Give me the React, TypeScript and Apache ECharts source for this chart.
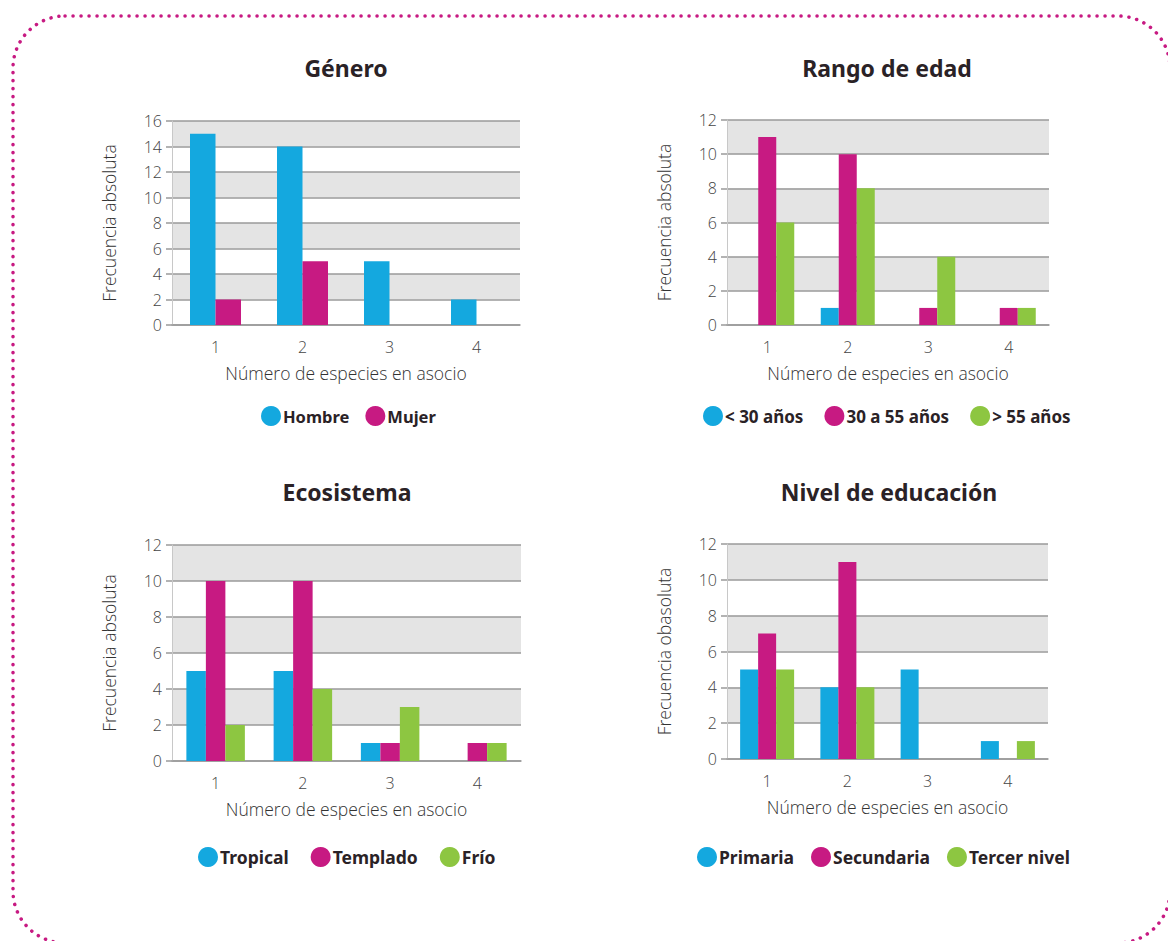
import React, { useEffect, useRef } from "react";
import * as echarts from "echarts";

// Categories on the x axis (number of species grown together)
const categories = ["1", "2", "3", "4"];

// Género
const generoHombre = [15, 14, 5, 2];
const generoMujer = [2, 5, 0, 0];

// Rango de edad
const edadMenor30 = [0, 1, 0, 0];
const edad30a55 = [11, 10, 1, 1];
const edadMayor55 = [6, 8, 4, 1];

// Ecosistema
const ecoTropical = [5, 5, 1, 0];
const ecoTemplado = [10, 10, 1, 1];
const ecoFrio = [2, 4, 3, 1];

// Nivel de educación
const eduPrimaria = [5, 4, 5, 1];
const eduSecundaria = [7, 11, 0, 0];
const eduTercer = [5, 4, 0, 1];

const BLUE = "#14a8df";
const MAGENTA = "#c71a82";
const GREEN = "#8dc641";
const TEXT = "#2a2226";
const AXIS_TEXT = "#444444";
const GRID_LINE = "#9a9a9a";
const BAND = "#e4e4e4";
const LABEL_FONT = "'Open Sans', 'Noto Sans', sans-serif";
const BOLD_FONT = "'Noto Sans', 'Open Sans', sans-serif";

type Panel = {
  title: string;
  titleX: number;
  titleY: number;
  grid: { left: number; top: number; width: number; height: number };
  yMax: number;
  yName: string;
  barWidth: number;
  legendLeft: number;
  legendTop: number;
  legendGap: number;
  legendFont: number;
  series: { name: string; color: string; data: number[] }[];
};

const panels: Panel[] = [
  {
    title: "Género",
    titleX: 346,
    titleY: 56,
    grid: { left: 172, top: 121, width: 348, height: 204 },
    yMax: 16,
    yName: "Frecuencia absoluta",
    barWidth: 25.5,
    legendLeft: 261,
    legendTop: 406,
    legendGap: 16,
    legendFont: 16.5,
    series: [
      { name: "Hombre", color: BLUE, data: generoHombre },
      { name: "Mujer", color: MAGENTA, data: generoMujer },
    ],
  },
  {
    title: "Rango de edad",
    titleX: 887,
    titleY: 56,
    grid: { left: 727, top: 120, width: 322, height: 205 },
    yMax: 12,
    yName: "Frecuencia absoluta",
    barWidth: 18,
    legendLeft: 703,
    legendTop: 406,
    legendGap: 21,
    legendFont: 17,
    series: [
      { name: "< 30 años", color: BLUE, data: edadMenor30 },
      { name: "30 a 55 años", color: MAGENTA, data: edad30a55 },
      { name: "> 55 años", color: GREEN, data: edadMayor55 },
    ],
  },
  {
    title: "Ecosistema",
    titleX: 347,
    titleY: 480,
    grid: { left: 172, top: 545, width: 349, height: 216 },
    yMax: 12,
    yName: "Frecuencia absoluta",
    barWidth: 19.5,
    legendLeft: 198,
    legendTop: 847,
    legendGap: 22,
    legendFont: 17.5,
    series: [
      { name: "Tropical", color: BLUE, data: ecoTropical },
      { name: "Templado", color: MAGENTA, data: ecoTemplado },
      { name: "Frío", color: GREEN, data: ecoFrio },
    ],
  },
  {
    title: "Nivel de educación",
    titleX: 889,
    titleY: 480,
    grid: { left: 727, top: 544, width: 321, height: 215 },
    yMax: 12,
    yName: "Frecuencia obasoluta",
    barWidth: 18,
    legendLeft: 697,
    legendTop: 847,
    legendGap: 17,
    legendFont: 17.5,
    series: [
      { name: "Primaria", color: BLUE, data: eduPrimaria },
      { name: "Secundaria", color: MAGENTA, data: eduSecundaria },
      { name: "Tercer nivel", color: GREEN, data: eduTercer },
    ],
  },
];

function buildOption() {
  const title: any[] = [];
  const grid: any[] = [];
  const xAxis: any[] = [];
  const yAxis: any[] = [];
  const legend: any[] = [];
  const series: any[] = [];

  panels.forEach((p, i) => {
    title.push({
      text: p.title,
      left: p.titleX,
      top: p.titleY,
      textAlign: "center",
      padding: 0,
      textStyle: {
        fontFamily: BOLD_FONT,
        fontWeight: "bold",
        fontSize: 23,
        color: TEXT,
      },
    });
    grid.push({ ...p.grid, containLabel: false });
    xAxis.push({
      type: "category",
      gridIndex: i,
      data: categories,
      name: "Número de especies en asocio",
      nameLocation: "middle",
      nameGap: 39,
      nameTextStyle: {
        fontFamily: LABEL_FONT,
        fontWeight: 300,
        fontSize: 17.5,
        color: "#333",
      },
      axisLine: { show: true, lineStyle: { color: GRID_LINE, width: 1.5 } },
      axisTick: { show: false },
      axisLabel: {
        margin: 14,
        fontFamily: LABEL_FONT,
        fontWeight: 300,
        fontSize: 16,
        color: AXIS_TEXT,
      },
      splitLine: { show: false },
    });
    yAxis.push({
      type: "value",
      gridIndex: i,
      min: 0,
      max: p.yMax,
      interval: 2,
      name: p.yName,
      nameLocation: "middle",
      nameGap: 54,
      nameTextStyle: {
        fontFamily: LABEL_FONT,
        fontWeight: 300,
        fontSize: 17.5,
        color: "#333",
      },
      axisLine: { show: true, lineStyle: { color: "#c8c8c8", width: 1 } },
      axisTick: {
        show: true,
        inside: false,
        length: 6,
        lineStyle: { color: GRID_LINE, width: 1.5 },
      },
      axisLabel: {
        margin: 10,
        fontFamily: LABEL_FONT,
        fontWeight: 300,
        fontSize: 16,
        color: AXIS_TEXT,
      },
      splitLine: { show: true, lineStyle: { color: GRID_LINE, width: 1.5 } },
      splitArea: {
        show: true,
        areaStyle: { color: ["rgba(255,255,255,0)", BAND] },
      },
    });
    legend.push({
      left: p.legendLeft,
      top: p.legendTop,
      padding: 0,
      orient: "horizontal",
      icon: "circle",
      itemWidth: 20,
      itemHeight: 20,
      itemGap: p.legendGap,
      data: p.series.map((s) => s.name),
      textStyle: {
        fontFamily: BOLD_FONT,
        fontWeight: "bold",
        fontSize: p.legendFont,
        color: TEXT,
        padding: [0, 0, 0, -3],
      },
    });
    p.series.forEach((s) => {
      series.push({
        type: "bar",
        name: s.name,
        xAxisIndex: i,
        yAxisIndex: i,
        data: s.data,
        barWidth: p.barWidth,
        barGap: "0%",
        itemStyle: { color: s.color },
      });
    });
  });

  return {
    animation: false,
    backgroundColor: "#ffffff",
    title,
    grid,
    xAxis,
    yAxis,
    legend,
    series,
    graphic: [
      {
        type: "rect",
        silent: true,
        z: 100,
        shape: { x: 13, y: 16, width: 1157, height: 927, r: 52 },
        style: {
          fill: "none",
          stroke: MAGENTA,
          lineWidth: 3.5,
          lineDash: [0.1, 7.9],
          lineCap: "round",
        },
      },
    ],
  };
}

export default function App() {
  const ref = useRef<HTMLDivElement>(null);

  useEffect(() => {
    if (!ref.current) return;
    const chart = echarts.init(ref.current, undefined, { renderer: "svg" });
    chart.setOption(buildOption());
    return () => chart.dispose();
  }, []);

  return (
    <div
      ref={ref}
      style={{
        position: "absolute",
        left: 0,
        top: 0,
        width: 1168,
        height: 941,
        background: "#fff",
      }}
    />
  );
}
